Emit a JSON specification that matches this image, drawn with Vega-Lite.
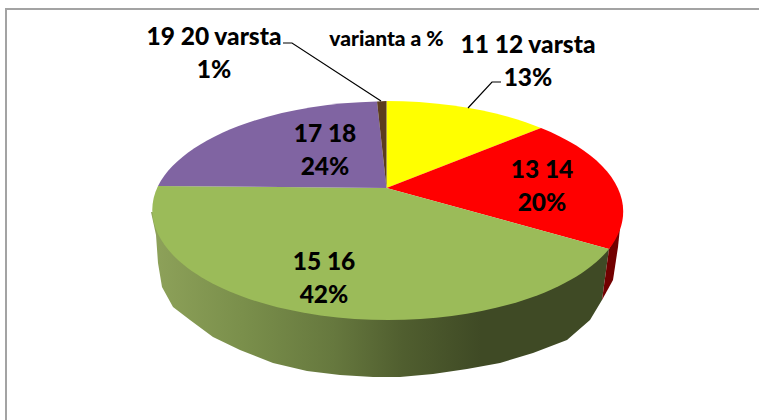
{"$schema":"https://vega.github.io/schema/vega-lite/v6.json","width":754,"height":412,"autosize":"none","padding":{"left":6,"top":9,"right":0,"bottom":0},"background":"white","view":{"stroke":"#a3a3a3","strokeWidth":2,"fill":"white"},"config":{"view":{"stroke":"#a3a3a3","strokeWidth":2}},"data":{"values":[{"slice":"11 12 varsta","share":13,"label":"11 12 varsta\n13%"},{"slice":"13 14","share":20,"label":"13 14\n20%"},{"slice":"15 16","share":42,"label":"15 16\n42%"},{"slice":"17 18","share":24,"label":"17 18\n24%"},{"slice":"19 20 varsta","share":1,"label":"19 20 varsta\n1%"}]},"layer":[{"transform":[{"filter":"datum.slice==='15 16'"}],"mark":{"type":"point","filled":true,"opacity":1,"size":4,"strokeWidth":0,"shape":"M226,34L219,85L207,105L184,125L150,138L117,148L84,154L50,159L17,162L-10,162L-43,160L-76,156L-110,148L-143,135L-170,122L-193,105L-210,92L-221,72L-225,48L-227,20L-232,-3Z","fill":{"x1":0,"y1":0,"x2":1,"y2":0,"gradient":"linear","stops":[{"offset":0,"color":"#8ea25a"},{"offset":0.2,"color":"#7a8f4b"},{"offset":0.4,"color":"#66783e"},{"offset":0.55,"color":"#505e2f"},{"offset":0.72,"color":"#3f4a25"},{"offset":1,"color":"#3f4a25"}]}}},{"transform":[{"filter":"datum.slice==='13 14'"}],"mark":{"type":"point","filled":true,"opacity":1,"size":4,"strokeWidth":0,"fill":"#720000","shape":"M226,34L237,13L235,32L230,65L219,85Z"}},{"mark":{"type":"point","filled":true,"opacity":1,"size":4,"strokeWidth":0},"encoding":{"shape":{"field":"slice","type":"nominal","legend":null,"scale":{"domain":["11 12 varsta","13 14","15 16","17 18","19 20 varsta"],"range":["M3.5,-27L3.5,-114A236,110 0 0 1 158,-87Z","M3.5,-27L158,-87A236,110 0 0 1 226,34Z","M3.5,-27L226,34A236,110 0 0 1 -225,-29Z","M3.5,-27L-225,-29A236,110 0 0 1 -6,-113.5Z","M3.5,-27L-6,-113.5A236,110 0 0 1 3.5,-114Z"]}},"fill":{"field":"slice","type":"nominal","legend":null,"scale":{"domain":["11 12 varsta","13 14","15 16","17 18","19 20 varsta"],"range":["#ffff00","#ff0000","#9bbb59","#8064a2","#5c3d1e"]}}}},{"transform":[{"filter":"datum.slice==='19 20 varsta'"}],"mark":{"type":"point","filled":false,"opacity":1,"size":4,"strokeWidth":1.2,"stroke":"#000000","fill":null,"shape":"M-100,-172L-91,-172L-2,-114"}},{"transform":[{"filter":"datum.slice==='11 12 varsta'"}],"mark":{"type":"point","filled":false,"opacity":1,"size":4,"strokeWidth":1.2,"stroke":"#000000","fill":null,"shape":"M118,-133L109,-133L85,-107"}},{"transform":[{"filter":"datum.slice==='19 20 varsta'"}],"mark":{"type":"text","font":"Lato","fontWeight":900,"fontSize":24.5,"lineBreak":"\n","lineHeight":33,"align":"center","baseline":"middle","dx":-169,"dy":-177,"color":"#000000"},"encoding":{"text":{"field":"label"}}},{"transform":[{"filter":"datum.slice==='11 12 varsta'"}],"mark":{"type":"text","font":"Lato","fontWeight":900,"fontSize":24.5,"lineBreak":"\n","lineHeight":33,"align":"center","baseline":"middle","dx":145,"dy":-169.5,"color":"#000000"},"encoding":{"text":{"field":"label"}}},{"transform":[{"filter":"datum.slice==='13 14'"}],"mark":{"type":"text","font":"Lato","fontWeight":900,"fontSize":24.5,"lineBreak":"\n","lineHeight":33,"align":"center","baseline":"middle","dx":159,"dy":-44,"color":"#000000"},"encoding":{"text":{"field":"label"}}},{"transform":[{"filter":"datum.slice==='17 18'"}],"mark":{"type":"text","font":"Lato","fontWeight":900,"fontSize":24.5,"lineBreak":"\n","lineHeight":33,"align":"center","baseline":"middle","dx":-58,"dy":-80.5,"color":"#000000"},"encoding":{"text":{"field":"label"}}},{"transform":[{"filter":"datum.slice==='15 16'"}],"mark":{"type":"text","font":"Lato","fontWeight":900,"fontSize":24.5,"lineBreak":"\n","lineHeight":33,"align":"center","baseline":"middle","dx":-59,"dy":48,"color":"#000000"},"encoding":{"text":{"field":"label"}}},{"data":{"values":[{"title":"varianta a %"}]},"mark":{"type":"text","font":"Lato","fontWeight":900,"fontSize":21,"align":"center","baseline":"middle","dx":3.5,"dy":-175,"color":"#000000"},"encoding":{"text":{"field":"title"}}}]}
